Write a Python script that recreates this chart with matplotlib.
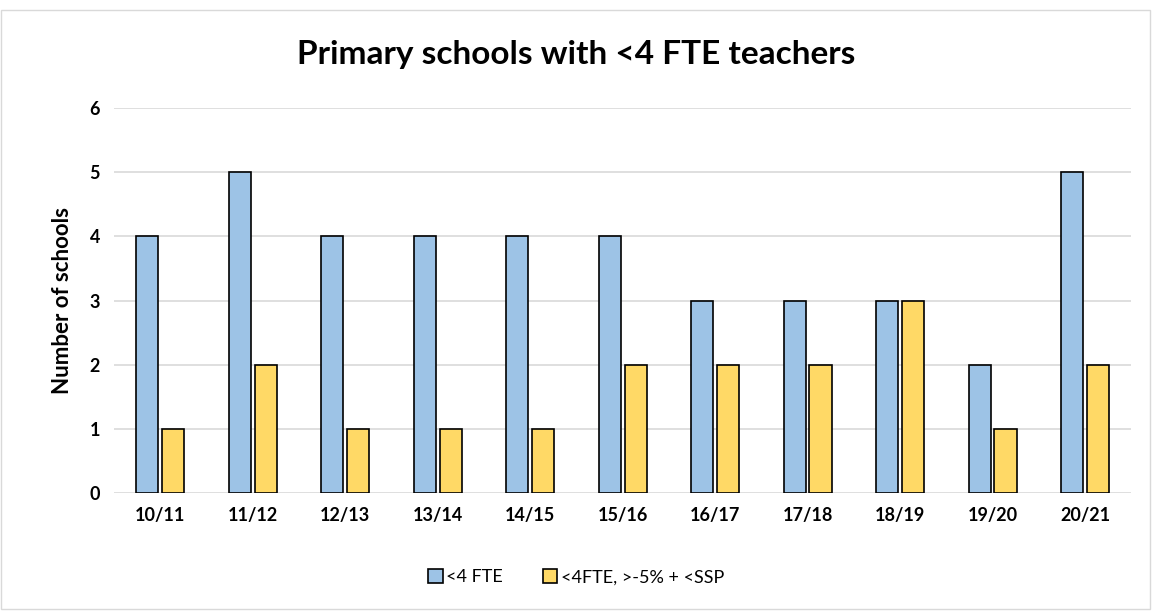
import numpy as np
import matplotlib
matplotlib.use("Agg")
import matplotlib.pyplot as plt
from matplotlib.patches import Rectangle

plt.rcParams["font.family"] = ["Lato", "DejaVu Sans"]

years = ["10/11", "11/12", "12/13", "13/14", "14/15", "15/16",
         "16/17", "17/18", "18/19", "19/20", "20/21"]
fte = [4, 5, 4, 4, 4, 4, 3, 3, 3, 2, 5]
fte_ssp = [1, 2, 1, 1, 1, 2, 2, 2, 3, 1, 2]

fig = plt.figure(figsize=(11.52, 6.11), dpi=100)
ax = fig.add_axes([0.099, 0.193, 0.883, 0.630])

# rand om de grafiek
fig.patches.append(Rectangle((0.001, 0.003), 0.997, 0.98, transform=fig.transFigure,
                             fill=False, edgecolor="#D9D9D9", linewidth=1))

x = np.arange(len(years))
w = 0.24
ax.bar(x - 0.14, fte, w, color="#9DC3E6", edgecolor="black", linewidth=1.2,
       label="<4 FTE", zorder=3)
ax.bar(x + 0.14, fte_ssp, w, color="#FFD966", edgecolor="black", linewidth=1.2,
       label="<4FTE, >-5% + <SSP", zorder=3)

ax.set_xlim(-0.5, len(years) - 0.5)
ax.set_ylim(0, 6)
ax.set_yticks(range(7))
ax.set_xticks(x)
ax.set_xticklabels(years, fontsize=13, fontweight="bold")
for lbl in ax.get_yticklabels():
    lbl.set_fontsize(13)
    lbl.set_fontweight("bold")
ax.tick_params(length=0, pad=10)
ax.grid(axis="y", color="#D9D9D9", linewidth=1.2, zorder=0)
for s in ax.spines.values():
    s.set_visible(False)

ax.set_ylabel("Number of schools", fontsize=16, fontweight="bold", labelpad=12)
fig.text(0.5, 0.91, "Primary schools with <4 FTE teachers", ha="center",
         va="center", fontsize=24, fontweight="bold")

fig.legend(loc="center", bbox_to_anchor=(0.5, 0.055), ncol=2, frameon=False,
           fontsize=13, handlelength=0.8, handleheight=0.8, handletextpad=0.2,
           columnspacing=2.2)

fig.savefig("out.png", dpi=100)
